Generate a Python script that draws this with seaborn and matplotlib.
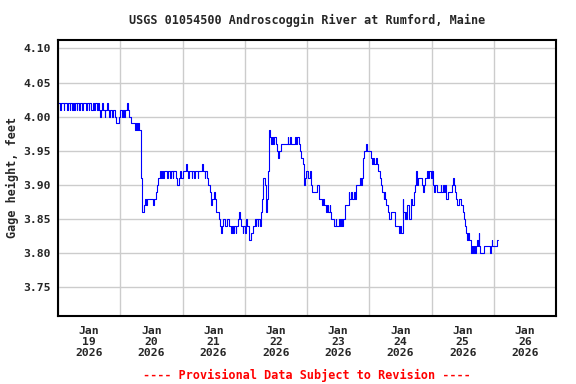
import numpy as np
import pandas as pd
import seaborn as sns
import matplotlib
matplotlib.use("Agg")
import matplotlib.pyplot as plt
import matplotlib.dates as mdates

# step change points: hours after 2026-01-19 00:00, gage height in feet
hours = [
    0.0, 0.8, 1.0, 2.3, 2.5, 3.5, 3.8, 4.5, 4.8, 5.5, 5.8, 6.3, 6.5, 7.3, 7.5,
    8.0, 8.3, 9.3, 9.5, 10.8, 11.3, 11.8, 12.0, 12.8, 13.5, 14.0, 14.3, 15.0,
    15.5, 15.8, 16.3, 16.5, 17.0, 17.3, 18.0, 18.3, 19.0, 19.3, 19.8, 20.0,
    20.8, 21.3, 22.0, 22.3, 23.5,
    24.0, 24.5, 25.0, 25.5, 26.0, 26.5, 26.8, 27.3, 28.3, 29.7, 30.2, 30.5,
    31.0, 31.3, 31.9, 32.0, 32.3, 32.5, 33.2, 33.6, 34.0, 34.3, 36.8, 37.2,
    37.8, 38.3, 38.7, 39.2, 39.6, 40.0, 40.5, 41.0, 42.0, 42.3, 43.2, 43.5,
    44.2, 44.5, 45.5, 45.8, 46.5, 47.2, 47.5,
    48.0, 49.3, 49.7, 50.3, 50.6, 51.5, 51.8, 52.5, 52.8, 53.8, 54.0, 55.5,
    56.0, 56.5, 56.8, 57.3, 58.0, 58.5, 59.1, 59.5, 60.2, 60.6, 61.0, 62.0,
    62.5, 63.0, 63.3, 63.8, 64.2, 65.0, 66.0, 66.7, 67.0, 67.6, 68.0, 68.5,
    68.8, 69.3, 69.8, 70.0, 70.6, 71.2, 71.5, 72.0,
    72.6, 72.9, 73.5, 73.8, 74.3, 75.2, 75.8, 76.2, 76.5, 77.0, 77.3, 77.7,
    78.3, 78.6, 78.9, 79.2, 79.8, 80.0, 80.3, 80.6, 80.8, 81.0, 81.2, 81.8,
    82.1, 82.5, 82.8, 83.3, 84.0, 84.6, 85.0, 85.3, 85.8, 88.5, 88.8, 89.5,
    89.8, 91.3, 91.6, 92.0, 92.8, 93.3, 93.8, 94.3, 94.7, 95.0, 95.3, 95.6,
    96.0, 96.5, 97.0, 97.4, 98.1, 100.0, 100.8, 101.7, 102.2, 102.7, 103.2,
    103.8, 104.2, 104.8, 105.0, 105.4, 106.5, 107.0, 107.3, 108.5, 108.8,
    109.2, 109.5, 110.0, 110.6, 112.0, 112.3, 112.8, 113.3, 114.0, 114.5,
    115.0, 116.3, 116.8, 117.2, 117.5, 117.8, 118.6, 119.3,
    120.5, 121.0, 121.5, 122.0, 122.5, 122.8, 123.5, 124.0, 124.6, 125.0,
    125.5, 125.8, 126.2, 126.6, 127.1, 127.6, 128.2, 129.9, 131.4, 131.8,
    132.2, 133.0, 133.2, 133.6, 134.0, 134.3, 134.7, 135.3, 136.0, 136.6,
    137.2, 137.5, 137.9, 138.5, 138.8, 140.5, 140.8, 141.2, 141.5, 142.4,
    142.8, 143.2, 143.8, 144.1, 144.6,
    145.0, 145.3, 146.1, 147.5, 147.8, 148.3, 148.8, 149.2, 149.6, 150.3,
    151.8, 152.2, 152.6, 153.0, 153.5, 153.8, 154.7, 155.4, 156.0, 156.7,
    157.0, 157.3, 157.7, 158.0, 158.6, 159.3, 159.6, 160.0, 160.3, 160.8,
    161.2, 161.5, 161.8, 162.2, 162.5, 162.8, 164.2, 166.4, 167.0, 167.2,
    167.4, 169.3, 169.7,
]
gage = [
    4.02, 4.01, 4.02, 4.01, 4.02, 4.01, 4.02, 4.01, 4.02, 4.01, 4.02, 4.01, 4.02, 4.01, 4.02,
    4.01, 4.02, 4.01, 4.02, 4.01, 4.02, 4.01, 4.02, 4.01, 4.02, 4.01, 4.02, 4.01,
    4.02, 4.01, 4.00, 4.01, 4.02, 4.01, 4.00, 4.01, 4.02, 4.01, 4.00, 4.01,
    4.00, 4.01, 4.00, 3.99, 4.00,
    4.01, 4.00, 4.01, 4.00, 4.01, 4.02, 4.01, 4.00, 3.99, 3.98, 3.99, 3.98,
    3.99, 3.98, 3.92, 3.91, 3.90, 3.86, 3.87, 3.88, 3.87, 3.88, 3.87, 3.88,
    3.89, 3.90, 3.91, 3.92, 3.91, 3.92, 3.91, 3.92, 3.91, 3.92, 3.91, 3.92,
    3.91, 3.92, 3.91, 3.90, 3.91, 3.92, 3.91,
    3.92, 3.93, 3.92, 3.91, 3.92, 3.91, 3.92, 3.91, 3.92, 3.91, 3.92, 3.93,
    3.92, 3.91, 3.92, 3.91, 3.90, 3.89, 3.87, 3.88, 3.89, 3.88, 3.86, 3.85,
    3.84, 3.83, 3.84, 3.85, 3.84, 3.85, 3.84, 3.83, 3.84, 3.83, 3.84, 3.83,
    3.84, 3.85, 3.86, 3.85, 3.84, 3.83, 3.84, 3.83,
    3.85, 3.84, 3.83, 3.82, 3.83, 3.84, 3.85, 3.84, 3.85, 3.84, 3.85, 3.84,
    3.86, 3.88, 3.90, 3.91, 3.90, 3.87, 3.86, 3.88, 3.90, 3.92, 3.98, 3.97,
    3.96, 3.97, 3.96, 3.97, 3.96, 3.95, 3.94, 3.95, 3.96, 3.97, 3.96, 3.97,
    3.96, 3.97, 3.96, 3.97, 3.96, 3.95, 3.94, 3.93, 3.92, 3.90, 3.91, 3.92,
    3.92, 3.91, 3.92, 3.90, 3.89, 3.90, 3.88, 3.87, 3.88, 3.87, 3.86,
    3.87, 3.86, 3.87, 3.86, 3.85, 3.84, 3.85, 3.84, 3.85, 3.84,
    3.85, 3.84, 3.85, 3.87, 3.89, 3.88, 3.89, 3.88, 3.89, 3.88,
    3.90, 3.91, 3.90, 3.91, 3.94, 3.95, 3.96, 3.95,
    3.94, 3.93, 3.94, 3.93, 3.94, 3.93, 3.92, 3.91, 3.90, 3.89,
    3.88, 3.89, 3.88, 3.87, 3.86, 3.85, 3.86, 3.84, 3.83, 3.84,
    3.83, 3.88, 3.86, 3.85, 3.86, 3.85, 3.87, 3.85, 3.88, 3.87,
    3.89, 3.90, 3.92, 3.90, 3.91, 3.90, 3.89, 3.90, 3.91, 3.92,
    3.91, 3.92, 3.91, 3.92, 3.90,
    3.89, 3.90, 3.89, 3.90, 3.89, 3.90, 3.89, 3.90, 3.88, 3.89,
    3.90, 3.91, 3.90, 3.89, 3.88, 3.87, 3.88, 3.87, 3.86, 3.85,
    3.84, 3.83, 3.82, 3.83, 3.82, 3.80, 3.81, 3.80, 3.81, 3.80,
    3.81, 3.82, 3.81, 3.83, 3.81, 3.80, 3.81, 3.80, 3.81, 3.82,
    3.81, 3.82, 3.82,
]

title = "USGS 01054500 Androscoggin River at Rumford, Maine"
ylabel = "Gage height, feet"
footer = "---- Provisional Data Subject to Revision ----"
yticks = [3.75, 3.80, 3.85, 3.90, 3.95, 4.00, 4.05, 4.10]

start = pd.Timestamp("2026-01-19 00:00")
df = pd.DataFrame({
    "time": start + pd.to_timedelta(hours, unit="h"),
    "gage": gage,
})

sns.set_style("white")
plt.rcParams["font.family"] = ["DejaVu Sans Mono"]
plt.rcParams["font.weight"] = "bold"

fig = plt.figure(figsize=(5.76, 3.84), dpi=100)
ax = fig.add_axes([58 / 576, 68 / 384, 498 / 576, 276.5 / 384])

sns.lineplot(data=df, x="time", y="gage", ax=ax, estimator=None,
             drawstyle="steps-post", color="#0000ff", linewidth=0.8)

ax.set_xlim(start, start + pd.Timedelta(days=8))
ax.set_ylim(3.708, 4.113)
ax.set_yticks(yticks)
ax.set_yticklabels([f"{v:.2f}" for v in yticks])

ax.xaxis.set_major_locator(mdates.DayLocator())
ax.xaxis.set_major_formatter(plt.NullFormatter())
ax.xaxis.set_minor_locator(mdates.HourLocator(byhour=12))
ax.xaxis.set_minor_formatter(mdates.DateFormatter("%b\n%d\n%Y"))

ax.grid(True, which="major", color="#cccccc", linewidth=1.0)
ax.set_axisbelow(True)
ax.tick_params(axis="both", which="both", length=0, labelsize=8.2)
ax.tick_params(axis="x", which="minor", pad=7)
ax.tick_params(axis="y", pad=5)
for lab in ax.get_xticklabels(minor=True):
    lab.set_linespacing(1.15)
    lab.set_fontweight("bold")
for lab in ax.get_yticklabels():
    lab.set_fontweight("bold")

for sp in ax.spines.values():
    sp.set_color("black")
    sp.set_linewidth(1.5)

ax.set_xlabel("")
ax.set_ylabel(ylabel, fontsize=8.5, fontweight="bold", labelpad=3)

fig.text(307 / 576, 1 - 20 / 384, title, ha="center", va="center",
         fontsize=8.5, fontweight="bold")
fig.text(307 / 576, 1 - 375 / 384, footer, ha="center", va="center",
         fontsize=8.5, fontweight="bold", color="#ff0000")

fig.savefig("out.png", dpi=100)
